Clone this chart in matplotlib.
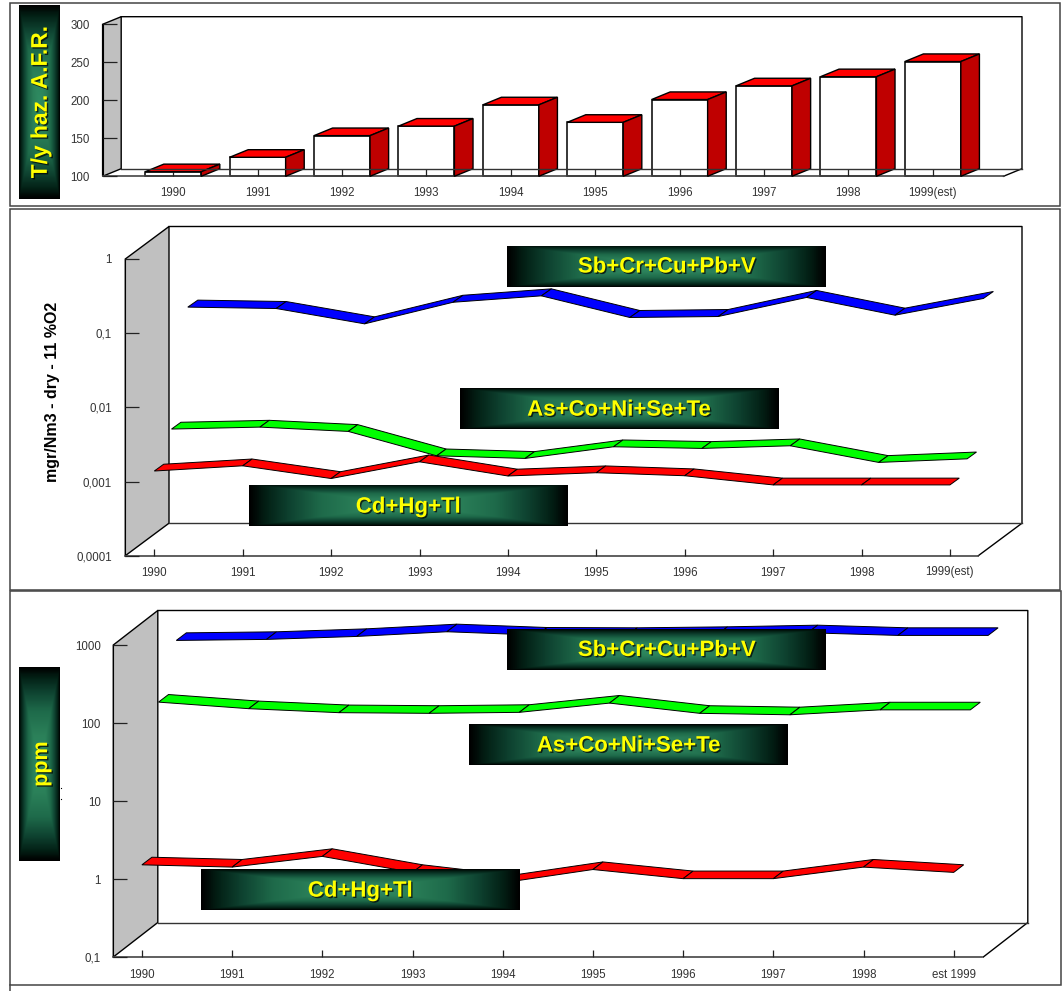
import numpy as np
import matplotlib
matplotlib.use("Agg")
import matplotlib.pyplot as plt
from matplotlib.colors import LinearSegmentedColormap
from matplotlib.patches import Polygon, Rectangle
from matplotlib.transforms import IdentityTransform
import matplotlib.patheffects as pe

plt.rcParams["font.family"] = ["Liberation Sans", "DejaVu Sans"]

W, H = 1062, 991

years_a = ["1990", "1991", "1992", "1993", "1994", "1995", "1996", "1997", "1998", "1999(est)"]
years_c = ["1990", "1991", "1992", "1993", "1994", "1995", "1996", "1997", "1998", "est 1999"]

# top chart, T/y
bar_values = [106, 125, 153.5, 166, 194, 171, 201, 219, 231, 251]
bar_ticks = [100, 150, 200, 250, 300]

# middle chart, mgr/Nm3
mid_ticks = [0.0001, 0.001, 0.01, 0.1, 1]
mid_labels = ["0,0001", "0,001", "0,01", "0,1", "1"]
mid_blue = [0.117, 0.112, 0.0696, 0.136, 0.166, 0.0848, 0.0874, 0.158, 0.0911, 0.153]
mid_green = [0.00383, 0.00407, 0.00356, 0.00167, 0.00154, 0.00221, 0.00210, 0.00228, 0.00136, 0.00152]
mid_red = [0.00154, 0.00181, 0.00122, 0.00205, 0.00132, 0.00146, 0.00133, 0.00100, 0.00100, 0.00100]

# bottom chart, ppm
low_ticks = [0.1, 1, 10, 100, 1000]
low_labels = ["0,1", "1", "10", "100", "1000"]
low_blue = [582, 600, 655, 752, 681, 675, 695, 730, 675, 675]
low_green = [142, 117, 104, 102, 105, 138, 102, 97.7, 113, 113]
low_red = [1.70, 1.59, 2.18, 1.36, 1.00, 1.48, 1.13, 1.13, 1.59, 1.36]

TXT = "#333333"
gradient = LinearSegmentedColormap.from_list(
    "box", [(0, "#2f8c62"), (0.3, "#2b8059"), (0.55, "#1e6a4a"), (0.75, "#0e4230"),
            (0.9, "#032015"), (1, "#000000")])


def rect(left, top, right, bottom):
    return [left / W, 1 - bottom / H, (right - left) / W, (bottom - top) / H]


def project(ax, x, y, dx=0, dy=0):
    # data position -> figure pixels, pushed back by the depth offset
    pts = ax.transData.transform(np.column_stack([x, y]))
    return pts + [dx, dy]


def add_poly(ax, pts, color, z=3, lw=0.8, edge="black"):
    ax.add_patch(Polygon(pts, closed=True, facecolor=color, edgecolor=edge, linewidth=lw,
                         transform=IdentityTransform(), clip_on=False, zorder=z))


def pixel_line(ax, xs, ys, z=6, lw=1.0, color="black"):
    ax.plot(xs, [H - v for v in ys], color=color, lw=lw, transform=IdentityTransform(),
            clip_on=False, zorder=z, solid_capstyle="projecting")


def make_axes(left, top, right, bottom, depth_x, depth_y, xlim, ylim, log, ticks, labels, xlabels,
              ylab_x, xlab_y):
    ax = fig.add_axes(rect(left, top, right, bottom))
    ax.patch.set_visible(False)
    if log:
        ax.set_yscale("log")
    ax.set_xlim(*xlim)
    ax.set_ylim(*ylim)
    for s in ("top", "right"):
        ax.spines[s].set_visible(False)
    ax.spines["left"].set_color("black")
    ax.spines["bottom"].set_color("#444444")
    ax.spines["bottom"].set_linewidth(1.2)
    ax.set_axisbelow(False)
    ax.minorticks_off()
    ax.set_xticks(range(10))
    ax.set_xticklabels([])
    ax.set_yticks(ticks)
    ax.set_yticklabels(labels)
    ax.tick_params(axis="y", which="major", direction="in", length=10, width=0.9, color="#222222")
    ax.tick_params(axis="x", which="major", direction="in", length=5.3, width=0.9, color="#222222")
    ax.tick_params(axis="y", which="minor", length=0)
    ax.tick_params(axis="y", labelsize=8.3, labelcolor=TXT, pad=(left - ylab_x) * 0.72)
    for i, name in enumerate(xlabels):
        px = ax.transData.transform((i, ylim[0]))[0]
        fig.text(px / W, 1 - (xlab_y + 4) / H, name, fontsize=8.3, color=TXT, ha="center", va="baseline")

    # grey side wall
    add_poly(ax, [(left, H - top), (left + depth_x, H - top + depth_y),
                  (left + depth_x, H - bottom + depth_y), (left, H - bottom)], "#c0c0c0", z=1, lw=1.0)
    return ax


def back_lines(ax, left, top, bottom, depth_x, depth_y, back_r):
    back_top = top - depth_y
    back_bot = bottom - depth_y
    pixel_line(ax, [left + depth_x, back_r, back_r, back_r - depth_x],
               [back_top, back_top, back_bot, bottom], z=1.5)
    pixel_line(ax, [left + depth_x, back_r], [back_bot, back_bot], z=6, color="#333333")


def ribbon(ax, values, color, off_x, off_y, half_x, half_y):
    xs = np.arange(len(values))
    front = project(ax, xs, values, off_x - half_x, off_y - half_y)
    back = project(ax, xs, values, off_x + half_x, off_y + half_y)
    for i in range(len(values) - 1):
        add_poly(ax, [front[i], front[i + 1], back[i + 1], back[i]], color, z=3 + i * 0.01, lw=0.7)


def label_box(left, top, right, bottom, text, rotate=False, size=16, text_xy=(0.5, 0.46)):
    bx = fig.add_axes(rect(left, top, right, bottom), zorder=10)
    bx.set_axis_off()
    u = np.linspace(-1, 1, 160)
    uu, vv = np.meshgrid(u, u)
    bx.imshow(np.maximum(np.abs(uu), np.abs(vv)), cmap=gradient, vmin=0, vmax=1, aspect="auto")
    bx.text(text_xy[0], text_xy[1], text, transform=bx.transAxes, color="#ffff00", fontsize=size,
            fontweight="bold", ha="center", va="center", rotation=90 if rotate else 0,
            path_effects=[pe.withSimplePatchShadow(offset=(1, -1), shadow_rgbFace="black", alpha=0.7)])


fig = plt.figure(figsize=(W / 100, H / 100), dpi=100, facecolor="white")

# panel frames
for top, bottom, right in [(3.5, 206.5, 1059.5), (208.5, 590, 1059.5), (591, 985, 1061)]:
    fig.add_artist(Rectangle((9.6 / W, 1 - bottom / H), (right - 9.6) / W, (bottom - top) / H,
                             transform=fig.transFigure, fill=False, edgecolor="#444444", linewidth=1.1))
fig.add_artist(plt.Line2D([9.6 / W, 9.6 / W], [1 - 985 / H, 0], color="#444444", lw=1.1))
# bits of a hidden label that stick out from behind the ppm box
fig.add_artist(plt.Line2D([60.6 / W, 60.6 / W], [1 - 788 / H, 1 - 799 / H], ls="none", marker="s",
                          markersize=0.8, markeredgewidth=0, color="black"))

# --- top chart
left, top, right, bottom = 102.6, 24.3, 1004, 176.3
spacing = 84.4
x0 = 173.2
xlim = ((left - x0) / spacing, (right - x0) / spacing)
ax = make_axes(left, top, right, bottom, 18.6, 7.6, xlim, (100, 300), False,
               bar_ticks, [str(t) for t in bar_ticks], years_a, 90, 192)
back_lines(ax, left, top, bottom, 18.6, 7.6, 1022)
bar_w = 0.664
ax.bar(range(10), np.array(bar_values) - 100, bottom=100, width=bar_w, color="white",
       edgecolor="black", linewidth=1.1, zorder=2.5, clip_on=False)
for i, val in enumerate(bar_values):
    a, b = i - bar_w / 2, i + bar_w / 2
    p = project(ax, [a, b, b], [val, val, 100])
    off = np.array([18.6, 7.6])
    add_poly(ax, [p[0], p[1], p[1] + off, p[0] + off], "#ff0000", z=2.6, lw=1.0)
    add_poly(ax, [p[1], p[2], p[2] + off, p[1] + off], "#bf0000", z=2.6, lw=1.0)

# --- middle chart
left, top, right, bottom = 125.3, 259, 978, 555.7
depth_x, depth_y = 43.7, 32.5
spacing = 88.4
x0 = 154.3
xlim = ((left - x0) / spacing, (right - x0) / spacing)
ax = make_axes(left, top, right, bottom, depth_x, depth_y, xlim, (0.0001, 1), True,
               mid_ticks, mid_labels, years_a, 112, 571.5)
back_lines(ax, left, top, bottom, depth_x, depth_y, 1022)
ribbon(ax, mid_blue, "#0000ff", 38.5, 24.5, 5, 3.5)
ribbon(ax, mid_green, "#00ff00", 21.9, 12.6, 4.7, 3.4)
ribbon(ax, mid_red, "#ff0000", 4.7, 0, 4.7, 3.4)
fig.text(52.3 / W, 1 - 391.7 / H, "mgr/Nm3 - dry - 11 %O2", rotation=90, fontsize=11.5, fontweight="bold",
         color="black", ha="center", va="center")

# --- bottom chart
left, top, right, bottom = 113.3, 645, 982, 957
depth_x, depth_y = 44.5, 34.5
spacing = 90.2
x0 = 141.9
xlim = ((left - x0) / spacing, (right - x0) / spacing)
ax = make_axes(left, top, right, bottom, depth_x, depth_y, xlim, (0.1, 1000), True,
               low_ticks, low_labels, years_c, 101, 974)
back_lines(ax, left, top, bottom, depth_x, depth_y, 1027.8)
ribbon(ax, low_blue, "#0000ff", 39.4, 26.7, 5, 3.8)
ribbon(ax, low_green, "#00ff00", 21.6, 12.8, 5, 3.8)
ribbon(ax, low_red, "#ff0000", 5, 0, 5, 3.8)

# --- labels over the charts
label_box(19, 5.3, 60, 199, "T/y haz. A.F.R.", rotate=True, size=16.4, text_xy=(0.52, 0.5))
label_box(19, 667.3, 60, 861, "ppm", rotate=True, size=15.5, text_xy=(0.55, 0.5))
label_box(507, 245.7, 826, 286.7, "Sb+Cr+Cu+Pb+V", text_xy=(0.5, 0.48))
label_box(459.7, 388, 778, 429, "As+Co+Ni+Se+Te", text_xy=(0.5, 0.46))
label_box(249, 485, 567.3, 526, "Cd+Hg+Tl", text_xy=(0.5, 0.46))
label_box(507, 629.3, 826, 670, "Sb+Cr+Cu+Pb+V", text_xy=(0.5, 0.48))
label_box(469, 724, 788, 764.7, "As+Co+Ni+Se+Te", text_xy=(0.5, 0.46))
label_box(201, 869, 519.3, 910, "Cd+Hg+Tl", text_xy=(0.5, 0.46))

fig.savefig("out.png", dpi=100)
